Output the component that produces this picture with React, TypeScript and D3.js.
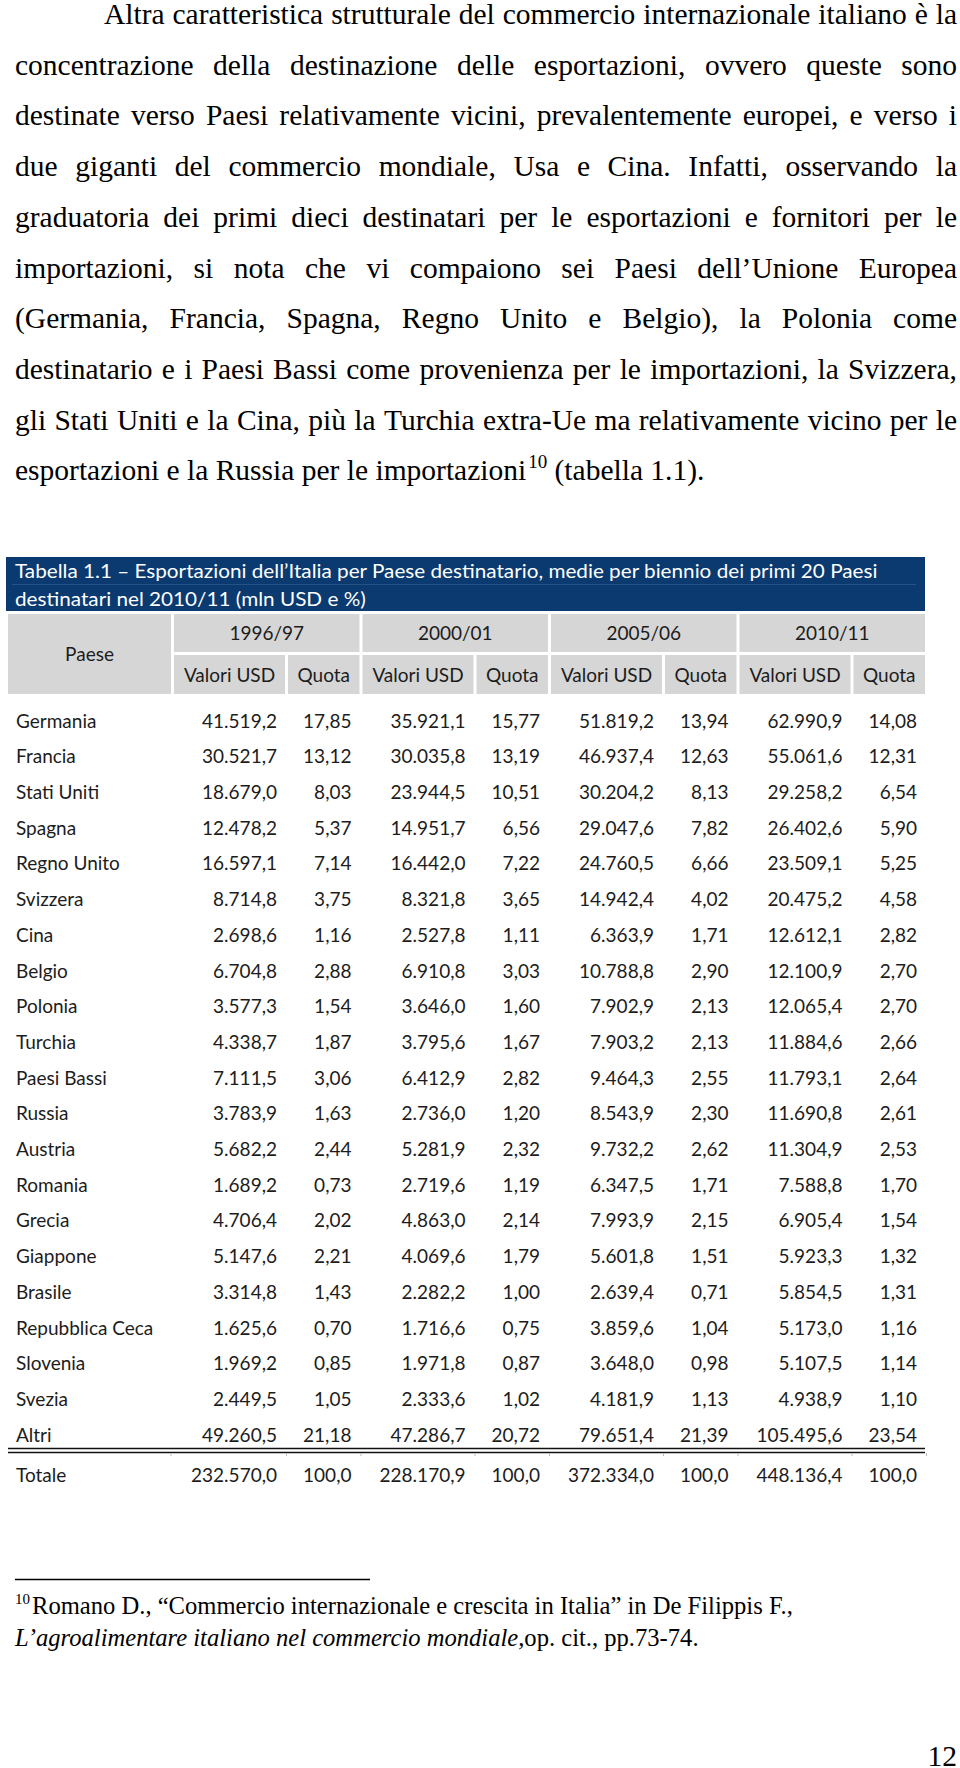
import React, { useMemo } from 'react';
import * as d3 from 'd3';

// ---------- DATA ----------
const bodyLines = [
  'Altra caratteristica strutturale del commercio internazionale italiano è la',
  'concentrazione della destinazione delle esportazioni, ovvero queste sono',
  'destinate verso Paesi relativamente vicini, prevalentemente europei, e verso i',
  'due giganti del commercio mondiale, Usa e Cina. Infatti, osservando la',
  'graduatoria dei primi dieci destinatari per le esportazioni e fornitori per le',
  'importazioni, si nota che vi compaiono sei Paesi dell’Unione Europea',
  '(Germania, Francia, Spagna, Regno Unito e Belgio), la Polonia come',
  'destinatario e i Paesi Bassi come provenienza per le importazioni, la Svizzera,',
  'gli Stati Uniti e la Cina, più la Turchia extra-Ue ma relativamente vicino per le',
];
const lastLineA = 'esportazioni e la Russia per le importazioni';
const lastLineSup = '10';
const lastLineB = '(tabella 1.1).';

const tableTitle = [
  'Tabella 1.1 – Esportazioni dell’Italia per Paese destinatario, medie per biennio dei primi 20 Paesi',
  'destinatari nel 2010/11 (mln USD e %)',
];
const paeseLabel = 'Paese';
const periods = ['1996/97', '2000/01', '2005/06', '2010/11'];
const subHeaders = ['Valori USD', 'Quota'];

const countries = [
  'Germania', 'Francia', 'Stati Uniti', 'Spagna', 'Regno Unito', 'Svizzera', 'Cina',
  'Belgio', 'Polonia', 'Turchia', 'Paesi Bassi', 'Russia', 'Austria', 'Romania',
  'Grecia', 'Giappone', 'Brasile', 'Repubblica Ceca', 'Slovenia', 'Svezia', 'Altri',
];
const v1996 = [41519.2, 30521.7, 18679.0, 12478.2, 16597.1, 8714.8, 2698.6, 6704.8, 3577.3, 4338.7, 7111.5, 3783.9, 5682.2, 1689.2, 4706.4, 5147.6, 3314.8, 1625.6, 1969.2, 2449.5, 49260.5];
const q1996 = [17.85, 13.12, 8.03, 5.37, 7.14, 3.75, 1.16, 2.88, 1.54, 1.87, 3.06, 1.63, 2.44, 0.73, 2.02, 2.21, 1.43, 0.70, 0.85, 1.05, 21.18];
const v2000 = [35921.1, 30035.8, 23944.5, 14951.7, 16442.0, 8321.8, 2527.8, 6910.8, 3646.0, 3795.6, 6412.9, 2736.0, 5281.9, 2719.6, 4863.0, 4069.6, 2282.2, 1716.6, 1971.8, 2333.6, 47286.7];
const q2000 = [15.77, 13.19, 10.51, 6.56, 7.22, 3.65, 1.11, 3.03, 1.60, 1.67, 2.82, 1.20, 2.32, 1.19, 2.14, 1.79, 1.00, 0.75, 0.87, 1.02, 20.72];
const v2005 = [51819.2, 46937.4, 30204.2, 29047.6, 24760.5, 14942.4, 6363.9, 10788.8, 7902.9, 7903.2, 9464.3, 8543.9, 9732.2, 6347.5, 7993.9, 5601.8, 2639.4, 3859.6, 3648.0, 4181.9, 79651.4];
const q2005 = [13.94, 12.63, 8.13, 7.82, 6.66, 4.02, 1.71, 2.90, 2.13, 2.13, 2.55, 2.30, 2.62, 1.71, 2.15, 1.51, 0.71, 1.04, 0.98, 1.13, 21.39];
const v2010 = [62990.9, 55061.6, 29258.2, 26402.6, 23509.1, 20475.2, 12612.1, 12100.9, 12065.4, 11884.6, 11793.1, 11690.8, 11304.9, 7588.8, 6905.4, 5923.3, 5854.5, 5173.0, 5107.5, 4938.9, 105495.6];
const q2010 = [14.08, 12.31, 6.54, 5.90, 5.25, 4.58, 2.82, 2.70, 2.70, 2.66, 2.64, 2.61, 2.53, 1.70, 1.54, 1.32, 1.31, 1.16, 1.14, 1.10, 23.54];
const totaleLabel = 'Totale';
const totalValues = [232570.0, 228170.9, 372334.0, 448136.4];
const totalQuota = [100.0, 100.0, 100.0, 100.0];

const footSup = '10';
const footLine1 = 'Romano D., “Commercio internazionale e crescita in Italia” in De Filippis F.,';
const footLine2Italic = 'L’agroalimentare italiano nel commercio mondiale,';
const footLine2Normal = 'op. cit., pp.73-74.';
const pageNumber = '12';

// ---------- STYLE / LAYOUT ----------
const W = 960;
const H = 1768;
const SERIF = '"Liberation Serif", "Times New Roman", serif';
const SANS = 'Lato, "Open Sans", sans-serif';
const BODY_SIZE = 29.5;
const FOOT_SIZE = 24.6;
const TABLE_SIZE = 19;
const NAVY = '#0a3a6f';
const GRAY = '#d6d6d6';
const TXT = '#1c1c1c';

let _ctx: CanvasRenderingContext2D | null = null;
function tw(text: string, size: number, family: string, style = 'normal'): number {
  if (!_ctx) _ctx = document.createElement('canvas').getContext('2d');
  if (!_ctx) return text.length * size * 0.45;
  _ctx.font = `${style} normal ${size}px ${family}`;
  return _ctx.measureText(text).width;
}

function JustLine({ text, x0, x1, y, size, justify }: any) {
  const words = text.split(' ');
  const ww = words.map((w: string) => tw(w, size, SERIF));
  const sp = tw(' ', size, SERIF);
  const natural = d3.sum(ww) + sp * (words.length - 1);
  const avail = x1 - x0;
  if (natural > avail) {
    return (
      <text x={x0} y={y} textLength={avail} lengthAdjust="spacingAndGlyphs">
        {text}
      </text>
    );
  }
  if (!justify || words.length < 2) return <text x={x0} y={y}>{text}</text>;
  const gap = (avail - d3.sum(ww)) / (words.length - 1);
  let x = x0;
  return (
    <g>
      {words.map((w: string, i: number) => {
        const el = (
          <text key={i} x={x} y={y}>
            {w}
          </text>
        );
        x += ww[i] + gap;
        return el;
      })}
    </g>
  );
}

export default function App() {
  const loc = d3.formatLocale({ decimal: ',', thousands: '.', grouping: [3], currency: ['', ''] });
  const fmtV = loc.format(',.1f');
  const fmtQ = loc.format('.2f');
  const fmtT = loc.format('.1f');

  const valueCols = [v1996, v2000, v2005, v2010];
  const quotaCols = [q1996, q2000, q2005, q2010];

  // paragraph layout
  const left = 15;
  const right = 957;
  const indent = 104;
  const lineY = d3.scaleLinear().domain([0, 1]).range([24, 24 + 50.7]);

  // table layout
  const xGroup = d3.scaleBand<string>().domain(periods).range([174, 925]).paddingInner(0.016);
  const bw = xGroup.bandwidth();
  const valW = 111;
  const gap = 3;
  const yRow = d3.scaleBand<string>().domain(countries).range([703, 703 + 35.7 * countries.length]);
  const rowC = (c: string) => (yRow(c) as number) + yRow.bandwidth() / 2;
  const totalY = 1475;

  const titleScale = useMemo(() => {
    const w = tw(tableTitle[0], TABLE_SIZE, SANS);
    return 864 / w;
  }, []);

  const lastA = tw(lastLineA, BODY_SIZE, SERIF);
  const supSize = 19;
  const supW = tw(lastLineSup, supSize, SERIF);
  const spW = tw(' ', BODY_SIZE, SERIF);
  const lastIdx = bodyLines.length;
  const yLast = lineY(lastIdx);

  return (
    <svg
      width={W}
      height={H}
      viewBox={`0 0 ${W} ${H}`}
      style={{ position: 'absolute', left: 0, top: 0, display: 'block', background: '#fff' }}
    >
      <rect x={0} y={0} width={W} height={H} fill="#fff" />
      {/* Paragraph */}
      <g fontFamily={SERIF} fontSize={BODY_SIZE} fill="#000">
        {bodyLines.map((t, i) => (
          <JustLine key={i} text={t} x0={i === 0 ? indent : left} x1={right} y={lineY(i)} size={BODY_SIZE} justify />
        ))}
        <text x={left} y={yLast}>{lastLineA}</text>
        <text x={left + lastA + 2} y={yLast - 12} fontSize={supSize}>
          {lastLineSup}
        </text>
        <text x={left + lastA + 2 + supW + spW} y={yLast}>{lastLineB}</text>
      </g>

      {/* Table title */}
      <rect x={6} y={557} width={919} height={54} fill={NAVY} />
      <line x1={12} x2={916} y1={584.5} y2={584.5} stroke="#3a6596" strokeWidth={1} opacity={0.6} />
      <g fontFamily={SANS} fontSize={TABLE_SIZE} fill="#fff">
        {tableTitle.map((t, i) => (
          <text
            key={i}
            transform={`translate(15,${[571.5, 599.5][i]}) scale(${titleScale},1)`}
            dy="0.36em"
          >
            {t}
          </text>
        ))}
      </g>

      {/* Header */}
      <g fontFamily={SANS} fontSize={TABLE_SIZE} fill={TXT}>
        <rect x={8} y={614} width={163} height={80} fill={GRAY} />
        <text x={8 + 163 / 2} y={654} dy="0.36em" textAnchor="middle">
          {paeseLabel}
        </text>
        {periods.map((p) => {
          const x0 = xGroup(p) as number;
          return (
            <g key={p}>
              <rect x={x0} y={614} width={bw} height={38} fill={GRAY} />
              <text x={x0 + bw / 2} y={633.5} dy="0.36em" textAnchor="middle">
                {p}
              </text>
              <rect x={x0} y={655} width={valW} height={39} fill={GRAY} />
              <rect x={x0 + valW + gap} y={655} width={bw - valW - gap} height={39} fill={GRAY} />
              <text x={x0 + valW / 2} y={675} dy="0.36em" textAnchor="middle">
                {subHeaders[0]}
              </text>
              <text x={x0 + valW + gap + (bw - valW - gap) / 2} y={675} dy="0.36em" textAnchor="middle">
                {subHeaders[1]}
              </text>
            </g>
          );
        })}
      </g>

      {/* Body rows */}
      <g fontFamily={SANS} fontSize={TABLE_SIZE} fill={TXT}>
        {countries.map((c, i) => (
          <g key={c}>
            <text x={16} y={rowC(c)} dy="0.36em">
              {c}
            </text>
            {periods.map((p, j) => {
              const x0 = xGroup(p) as number;
              return (
                <g key={p}>
                  <text x={x0 + valW - 8} y={rowC(c)} dy="0.36em" textAnchor="end">
                    {fmtV(valueCols[j][i])}
                  </text>
                  <text x={x0 + bw - 8} y={rowC(c)} dy="0.36em" textAnchor="end">
                    {fmtQ(quotaCols[j][i])}
                  </text>
                </g>
              );
            })}
          </g>
        ))}
        {/* double rule */}
        <line x1={8} x2={925} y1={1448.5} y2={1448.5} stroke="#111" strokeWidth={1.3} />
        <line x1={8} x2={925} y1={1452.5} y2={1452.5} stroke="#111" strokeWidth={1.3} />
        {[171, ...periods.flatMap((p) => [(xGroup(p) as number) + valW + 1.5, (xGroup(p) as number) + bw + 1.5])].map(
          (x, kk) => (
            <line key={kk} x1={x} x2={x} y1={1453} y2={1456} stroke="#bbb" strokeWidth={1} />
          )
        )}
        <text x={16} y={totalY} dy="0.36em">
          {totaleLabel}
        </text>
        {periods.map((p, j) => {
          const x0 = xGroup(p) as number;
          return (
            <g key={p}>
              <text x={x0 + valW - 8} y={totalY} dy="0.36em" textAnchor="end">
                {fmtV(totalValues[j])}
              </text>
              <text x={x0 + bw - 8} y={totalY} dy="0.36em" textAnchor="end">
                {fmtT(totalQuota[j])}
              </text>
            </g>
          );
        })}
      </g>

      {/* Footnote */}
      <line x1={15} x2={370} y1={1579.5} y2={1579.5} stroke="#000" strokeWidth={1.3} />
      <g fontFamily={SERIF} fontSize={FOOT_SIZE} fill="#000">
        <text x={15} y={1604} fontSize={15}>
          {footSup}
        </text>
        <text x={32} y={1614}>{footLine1}</text>
        <text x={15} y={1646}>
          <tspan fontStyle="italic">{footLine2Italic}</tspan>
          <tspan>{footLine2Normal}</tspan>
        </text>
      </g>

      {/* Page number */}
      <text x={957} y={1766} fontFamily={SERIF} fontSize={BODY_SIZE} textAnchor="end" fill="#000">
        {pageNumber}
      </text>
    </svg>
  );
}
